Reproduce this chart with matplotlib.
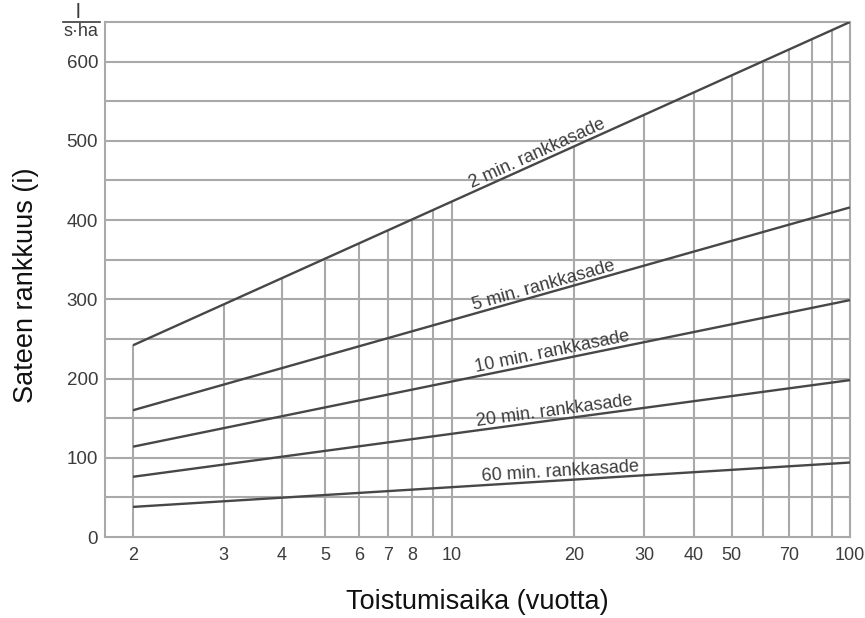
import numpy as np
import matplotlib
matplotlib.use("Agg")
import matplotlib.pyplot as plt
from matplotlib.lines import Line2D

plt.rcParams['font.family'] = ['Liberation Sans', 'DejaVu Sans']

# ---- data ----
return_periods = [2, 100]
series_names = ["2 min. rankkasade", "5 min. rankkasade", "10 min. rankkasade",
                "20 min. rankkasade", "60 min. rankkasade"]
i_2min = [242, 650]
i_5min = [160, 416]
i_10min = [114, 299]
i_20min = [76, 198]
i_60min = [38, 94]
series_values = [i_2min, i_5min, i_10min, i_20min, i_60min]
label_T = [16.5, 17.0, 17.8, 18.0, 18.6]

x_ticks = [2, 3, 4, 5, 6, 7, 8, 10, 20, 30, 40, 50, 70, 100]
x_grid = [2, 3, 4, 5, 6, 7, 8, 9, 10, 20, 30, 40, 50, 60, 70, 80, 90]
y_ticks = [0, 100, 200, 300, 400, 500, 600]
y_grid = [50, 100, 150, 200, 250, 300, 350, 400, 450, 500, 550, 600]

# ---- Gumbel (extreme value) return period scale ----
def fwd(T):
    T = np.asarray(T, dtype=float)
    T = np.clip(T, 1.0001, None)
    return -np.log(-np.log(1.0 - 1.0 / T))

def inv(g):
    g = np.asarray(g, dtype=float)
    return 1.0 / (1.0 - np.exp(-np.exp(-g)))

W, H = 865, 618
fig = plt.figure(figsize=(W / 100, H / 100), dpi=100)
ax = fig.add_axes([105 / W, 81 / H, 745 / W, 515 / H])
ax.set_xscale('function', functions=(fwd, inv))
ax.set_xlim(1.79, 100)
ax.set_ylim(0, 650)

grid_c = '#a9a9a9'
line_c = '#474747'
text_c = '#3c3c3c'

# horizontal grid
for yv in y_grid:
    ax.axhline(yv, color=grid_c, lw=1.5, zorder=1)

# vertical grid up to the 2-min line
g_top = fwd(return_periods)
for T in x_grid:
    ytop = np.interp(fwd(T), g_top, i_2min)
    ax.vlines(T, 0, ytop, color=grid_c, lw=1.5, zorder=1)

# data lines
for vals in series_values:
    ax.plot(return_periods, vals, color=line_c, lw=1.7, zorder=3, solid_capstyle='butt')

# labels along lines
for name, vals, Tl in zip(series_names, series_values, label_T):
    yl = np.interp(fwd(Tl), g_top, vals)
    p1 = ax.transData.transform((return_periods[0], vals[0]))
    p2 = ax.transData.transform((return_periods[1], vals[1]))
    ang = np.degrees(np.arctan2(p2[1] - p1[1], p2[0] - p1[0]))
    d = 3.0
    ox = -np.sin(np.radians(ang)) * d
    oy = np.cos(np.radians(ang)) * d
    ax.annotate(name, xy=(Tl, yl), xytext=(ox, oy), textcoords='offset points',
                rotation=ang, rotation_mode='anchor', ha='center', va='baseline',
                fontsize=13, color=text_c, zorder=4)

for s in ax.spines.values():
    s.set_color(grid_c)
    s.set_linewidth(1.5)

ax.set_xticks(x_ticks)
ax.set_xticklabels([str(t) for t in x_ticks])
ax.xaxis.set_minor_locator(matplotlib.ticker.NullLocator())
ax.set_yticks(y_ticks)
ax.tick_params(axis='both', length=0, colors=text_c)
ax.tick_params(axis='x', labelsize=13, pad=7)
ax.tick_params(axis='y', labelsize=13.5, pad=5)

ax.set_xlabel('Toistumisaika (vuotta)', fontsize=19.5, color='#111111', labelpad=18)
ax.set_ylabel('Sateen rankkuus (i)', fontsize=19.5, color='#111111')
ax.yaxis.set_label_coords(-0.088, 0.489)

# unit fraction l / s·ha
fig.text(78 / W, 1 - 13 / H, 'l', ha='center', va='center', fontsize=15, color=text_c)
fig.text(81 / W, 1 - 32 / H, 's·ha', ha='center', va='center', fontsize=13, color=text_c)
fig.add_artist(Line2D([63 / W, 100 / W], [1 - 22 / H, 1 - 22 / H], color=text_c, lw=1.2))

fig.savefig('out.png', dpi=100)
